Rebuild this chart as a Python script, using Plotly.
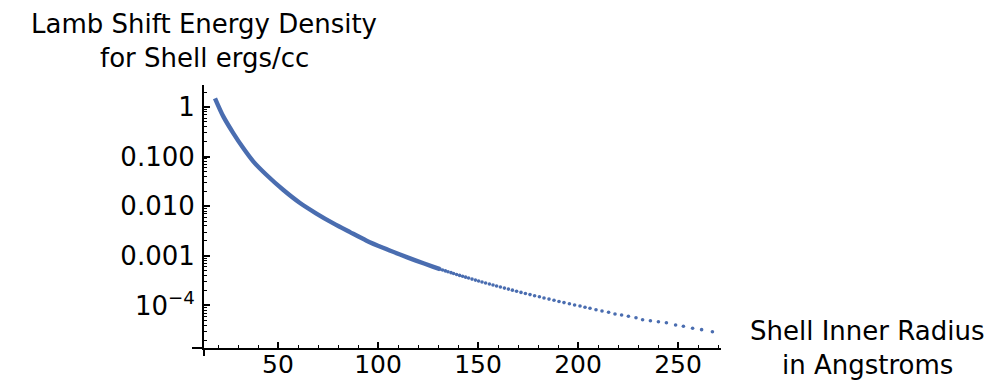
import plotly.graph_objects as go

# ---- data ----
# dense part of the curve (points merge into a solid band)
dense_x = [18.5, 22.7, 27.7, 32.7, 37.7, 44.3, 52.7, 61.0, 69.0, 77.7, 86.0,
           94.3, 102.5, 111.0, 119.0, 127.7, 131.0]
dense_y = [1.50, 0.64, 0.295, 0.147, 0.0794, 0.0426, 0.0212, 0.0116, 0.0072,
           0.0045, 0.0030, 0.00202, 0.00145, 0.00106, 0.00080, 0.000600, 0.000538]

# individually visible dots in the tail
tail_x = [131.0, 132.3, 133.7, 135.0, 136.5, 137.8, 139.3, 140.8, 142.3, 143.8,
          145.3, 147.0, 148.7, 150.3, 152.0, 153.8, 155.7, 157.5, 159.3, 161.2,
          163.2, 165.2, 167.2, 169.3, 171.5, 173.7, 176.0, 178.3, 180.7, 183.0,
          185.5, 188.0, 190.5, 193.0, 195.7, 198.3, 201.0,
          203.5, 206.0, 209.0, 212.0, 215.3, 218.5, 221.8, 225.2, 229.0, 232.3,
          236.2, 240.2, 244.2, 248.8, 252.7, 257.3, 261.8, 267.2]
tail_y = [5.38e-4, 5.17e-4, 4.96e-4, 4.77e-4, 4.57e-4, 4.40e-4, 4.21e-4, 4.03e-4,
          3.87e-4, 3.71e-4, 3.56e-4, 3.39e-4, 3.24e-4, 3.11e-4, 2.97e-4, 2.83e-4,
          2.70e-4, 2.58e-4, 2.46e-4, 2.35e-4, 2.23e-4, 2.13e-4, 2.03e-4, 1.93e-4,
          1.83e-4, 1.74e-4, 1.65e-4, 1.57e-4, 1.49e-4, 1.41e-4, 1.34e-4, 1.27e-4,
          1.20e-4, 1.14e-4, 1.08e-4, 1.02e-4, 9.71e-5,
          9.16e-5, 8.75e-5, 8.18e-5, 7.71e-5, 7.26e-5, 6.71e-5, 6.40e-5, 6.03e-5,
          5.65e-5, 5.15e-5, 4.92e-5, 4.69e-5, 4.48e-5, 4.03e-5, 3.79e-5, 3.45e-5,
          3.24e-5, 2.95e-5]

x_tickvals = [50, 100, 150, 200, 250]
x_ticktext = ["50", "100", "150", "200", "250"]
x_minor = [20, 30, 40, 60, 70, 80, 90, 110, 120, 130, 140, 160, 170, 180, 190,
           210, 220, 230, 240, 260, 270]
y_tickvals = [1e-4, 1e-3, 1e-2, 1e-1, 1]
y_ticktext = ["10<sup>\u22124</sup>", "0.001", "0.010", "0.100", "1"]
y_minor = [m * 10.0 ** e for e in range(-5, 1) for m in range(2, 10)]

COLOR = "#4a6db0"
FONT = "DejaVu Sans"
FS = 26

fig = go.Figure()
fig.add_trace(go.Scatter(x=dense_x, y=dense_y, mode="lines",
                         line=dict(color=COLOR, width=4.4, shape="spline", smoothing=0.8),
                         hoverinfo="skip"))
fig.add_trace(go.Scatter(x=tail_x, y=tail_y, mode="markers",
                         marker=dict(color=COLOR, size=3.6, line=dict(width=0)),
                         hoverinfo="skip"))

# page body has an 8px default margin, so the figure is 8px smaller than the window
fig.update_layout(
    width=999, height=375,
    margin=dict(l=196, r=286, t=77, b=35, autoexpand=False),
    paper_bgcolor="white", plot_bgcolor="white",
    showlegend=False,
    font=dict(family=FONT, size=FS, color="black"),
)
fig.update_xaxes(
    range=[13, 271.5], showgrid=False, zeroline=False, automargin=False,
    showline=True, linecolor="black", linewidth=2,
    ticks="inside", ticklen=6, tickwidth=1.5, tickcolor="black",
    tickmode="array", tickvals=x_tickvals, ticktext=x_ticktext,
    tickfont=dict(family=FONT, size=25, color="black"),
    ticklabelstandoff=-7,
    minor=dict(ticks="inside", ticklen=3.5, tickwidth=1, tickcolor="black",
               tickmode="array", tickvals=x_minor, showgrid=False),
)
fig.update_yaxes(
    type="log", range=[-4.859, 0.444], showgrid=False, zeroline=False, automargin=False,
    showline=True, linecolor="black", linewidth=2,
    ticks="inside", ticklen=6, tickwidth=1.5, tickcolor="black",
    tickmode="array", tickvals=y_tickvals, ticktext=y_ticktext,
    tickfont=dict(family=FONT, size=FS, color="black"),
    ticklabelstandoff=2,
    minor=dict(ticks="inside", ticklen=3, tickwidth=1, tickcolor="black",
               tickmode="array", tickvals=y_minor, showgrid=False),
)

# small axis overhangs where the two axes cross
fig.add_shape(type="line", xref="paper", yref="paper", xsizemode="pixel", xanchor=0,
              x0=-12, x1=0, y0=0, y1=0, line=dict(color="black", width=2))
fig.add_shape(type="line", xref="paper", yref="paper", ysizemode="pixel", yanchor=0,
              x0=0, x1=0, y0=-8, y1=0, line=dict(color="black", width=2))

ann_font = dict(family=FONT, size=FS, color="black")
fig.add_annotation(text="Lamb Shift Energy Density", xref="paper", yref="paper",
                   x=0, y=(348 - 24) / 263, xanchor="center", yanchor="middle",
                   showarrow=False, font=ann_font)
fig.add_annotation(text="for Shell ergs/cc", xref="paper", yref="paper",
                   x=0, y=(348 - 58) / 263, xanchor="center", yanchor="middle",
                   showarrow=False, font=ann_font)
fig.add_annotation(text="Shell Inner Radius", xref="paper", yref="paper",
                   x=(867 - 204) / 517, y=(348 - 331) / 263, xanchor="center",
                   yanchor="middle", showarrow=False, font=ann_font)
fig.add_annotation(text="in Angstroms", xref="paper", yref="paper",
                   x=(867 - 204) / 517, y=(348 - 365) / 263, xanchor="center",
                   yanchor="middle", showarrow=False, font=ann_font)

fig.write_html("out.html")
